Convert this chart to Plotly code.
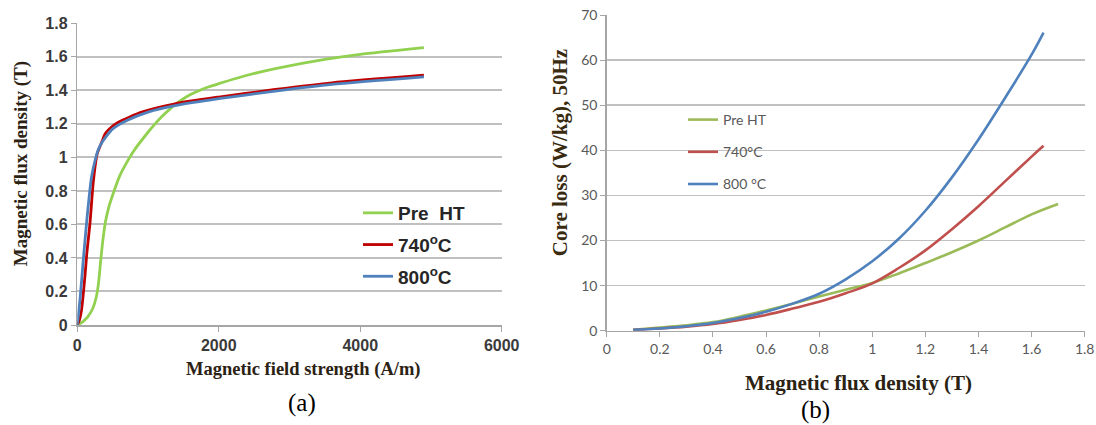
import plotly.graph_objects as go

# ---- Panel (a): B-H curves ----
h_pre = [0, 80, 150, 220, 270, 300, 330, 360, 400, 450, 520, 600, 700, 800, 1000, 1100, 1200, 1300, 1400, 1500, 1600, 1700, 1850, 2000, 2400, 2800, 3500, 4000, 4900]
b_pre = [0, 0.02, 0.05, 0.10, 0.17, 0.25, 0.38, 0.50, 0.62, 0.71, 0.80, 0.89, 0.97, 1.04, 1.15, 1.20, 1.245, 1.285, 1.32, 1.35, 1.375, 1.395, 1.42, 1.44, 1.49, 1.53, 1.585, 1.615, 1.655]
h_740 = [0, 30, 60, 110, 135, 180, 225, 280, 345, 392, 509, 580, 910, 1381, 2000, 2800, 3600, 4900]
b_740 = [0, 0.03, 0.09, 0.30, 0.43, 0.61, 0.85, 1.02, 1.09, 1.14, 1.19, 1.21, 1.27, 1.32, 1.36, 1.405, 1.445, 1.49]
h_800 = [0, 40, 85, 140, 200, 250, 300, 350, 400, 500, 700, 1000, 1400, 2000, 2800, 3600, 4900]
b_800 = [0, 0.16, 0.39, 0.65, 0.88, 0.98, 1.05, 1.09, 1.12, 1.17, 1.22, 1.27, 1.31, 1.35, 1.395, 1.435, 1.48]

# ---- Panel (b): core loss curves ----
bl_pre = [0.1, 0.2, 0.3, 0.4, 0.5, 0.6, 0.7, 0.8, 0.9, 1.0, 1.1, 1.2, 1.3, 1.4, 1.5, 1.6, 1.7]
loss_pre = [0.2, 0.7, 1.2, 1.9, 3.1, 4.5, 6.0, 7.6, 9.1, 10.6, 12.7, 15.0, 17.4, 20.0, 22.9, 25.8, 28.1]
bl_740 = [0.1, 0.2, 0.3, 0.4, 0.5, 0.6, 0.7, 0.8, 0.9, 1.0, 1.1, 1.2, 1.3, 1.4, 1.5, 1.6, 1.645]
loss_740 = [0.2, 0.5, 0.9, 1.5, 2.4, 3.5, 4.9, 6.4, 8.3, 10.5, 13.9, 17.8, 22.5, 27.6, 33.1, 38.6, 41.0]
bl_800 = [0.1, 0.2, 0.3, 0.4, 0.5, 0.6, 0.7, 0.8, 0.9, 1.0, 1.1, 1.2, 1.3, 1.4, 1.5, 1.6, 1.645]
loss_800 = [0.2, 0.5, 1.0, 1.7, 2.8, 4.2, 6.0, 8.2, 11.4, 15.4, 20.4, 26.6, 34.0, 42.4, 51.6, 61.2, 66.1]

names_a = ["Pre  HT", "740<sup>o</sup>C", "800<sup>o</sup>C"]
names_b = ["Pre HT", "740°C", "800 °C"]
colors_a = ["#92D050", "#C00000", "#4F81BD"]
colors_b = ["#9BBB59", "#C0504D", "#4F81BD"]

W, H = 1096, 425
def px(x):
    return x / W
def py(y):
    return (H - y) / H

fig = go.Figure()

for i, (xs, ys) in enumerate([(h_pre, b_pre), (h_740, b_740), (h_800, b_800)]):
    fig.add_trace(go.Scatter(
        x=xs, y=ys, mode="lines", name=names_a[i],
        line=dict(color=colors_a[i], width=2.8, shape="spline", smoothing=0.6),
        xaxis="x", yaxis="y", legend="legend", legendgroup="a%d" % i))

for i, (xs, ys) in enumerate([(bl_pre, loss_pre), (bl_740, loss_740), (bl_800, loss_800)]):
    fig.add_trace(go.Scatter(
        x=xs, y=ys, mode="lines", name=names_b[i],
        line=dict(color=colors_b[i], width=2.6, shape="spline", smoothing=1.0),
        xaxis="x2", yaxis="y2", legend="legend2", legendgroup="b%d" % i))

sans = "Liberation Sans, Arial, sans-serif"
serif = "Liberation Serif, Times New Roman, serif"
grid = "#C0C0C0"

fig.update_layout(
    width=W, height=H,
    margin=dict(l=0, r=0, t=0, b=0),
    paper_bgcolor="white", plot_bgcolor="white",
    xaxis=dict(domain=[px(77.3), px(501.7)], range=[0, 6000], dtick=2000,
               showgrid=False, zeroline=False, showline=True, linecolor="#A6A6A6", linewidth=1.5,
               ticks="outside", ticklen=5, tickcolor="#A6A6A6", automargin=False,
               tickfont=dict(family=sans, size=16, color="#3A3A3A", weight="bold"),
               anchor="y", fixedrange=True),
    yaxis=dict(domain=[py(325), py(23.3)], range=[0, 1.8], dtick=0.2,
               showgrid=True, gridcolor=grid, gridwidth=2, zeroline=False,
               showline=True, linecolor="#A6A6A6", linewidth=1.5,
               ticks="outside", ticklen=5, tickcolor="#A6A6A6", automargin=False,
               tickfont=dict(family=sans, size=16, color="#3A3A3A", weight="bold"),
               anchor="x", fixedrange=True),
    xaxis2=dict(domain=[px(606.7), px(1084.7)], range=[0, 1.8], dtick=0.2,
                showgrid=False, zeroline=False, showline=True, linecolor="#A6A6A6", linewidth=1.5,
                ticks="outside", ticklen=5, tickcolor="#A6A6A6", automargin=False,
                tickfont=dict(family="Lato, Open Sans, sans-serif", size=14, color="#595959"),
                anchor="y2", fixedrange=True),
    yaxis2=dict(domain=[py(330.7), py(15)], range=[0, 70], dtick=10,
                showgrid=True, gridcolor=grid, gridwidth=1.5, zeroline=False,
                showline=True, linecolor="#A6A6A6", linewidth=1.5,
                ticks="outside", ticklen=5, tickcolor="#A6A6A6", automargin=False,
                tickfont=dict(family="Lato, Open Sans, sans-serif", size=14, color="#595959"),
                anchor="x2", fixedrange=True),
    legend=dict(x=px(358), y=py(194), xanchor="left", yanchor="top",
                bgcolor="rgba(0,0,0,0)", tracegroupgap=4,
                font=dict(family=sans, size=19, color="#262626", weight="bold")),
    legend2=dict(x=px(683), y=py(104), xanchor="left", yanchor="top",
                 bgcolor="rgba(0,0,0,0)", tracegroupgap=11,
                 font=dict(family="Lato, Open Sans, sans-serif", size=14, color="#595959")),
    showlegend=True,
)

ann = [
    dict(text="<b>Magnetic flux density (T)</b>", x=px(20.7), y=py(163.5), textangle=-90,
         font=dict(family=serif, size=19, color="#2B2213")),
    dict(text="<b>Magnetic field strength (A/m)</b>", x=px(302.5), y=py(369),
         font=dict(family=serif, size=18.5, color="#2B2213")),
    dict(text="(a)", x=px(302), y=py(403), font=dict(family=serif, size=25, color="black")),
    dict(text="<b>Core loss (W/kg), 50Hz</b>", x=px(560.7), y=py(152.5), textangle=-90,
         font=dict(family=serif, size=21, color="#3A2A10")),
    dict(text="<b>Magnetic flux density (T)</b>", x=px(858), y=py(383),
         font=dict(family=serif, size=21, color="#2B2213")),
    dict(text="(b)", x=px(815), y=py(410), font=dict(family=serif, size=25, color="black")),
]
for a in ann:
    a.update(xref="paper", yref="paper", showarrow=False, xanchor="center", yanchor="middle")
fig.update_layout(annotations=ann)

fig.write_html("out.html",
               config={"displayModeBar": False, "staticPlot": True},
               post_script="document.body.style.margin='0';document.body.style.overflow='hidden';")
